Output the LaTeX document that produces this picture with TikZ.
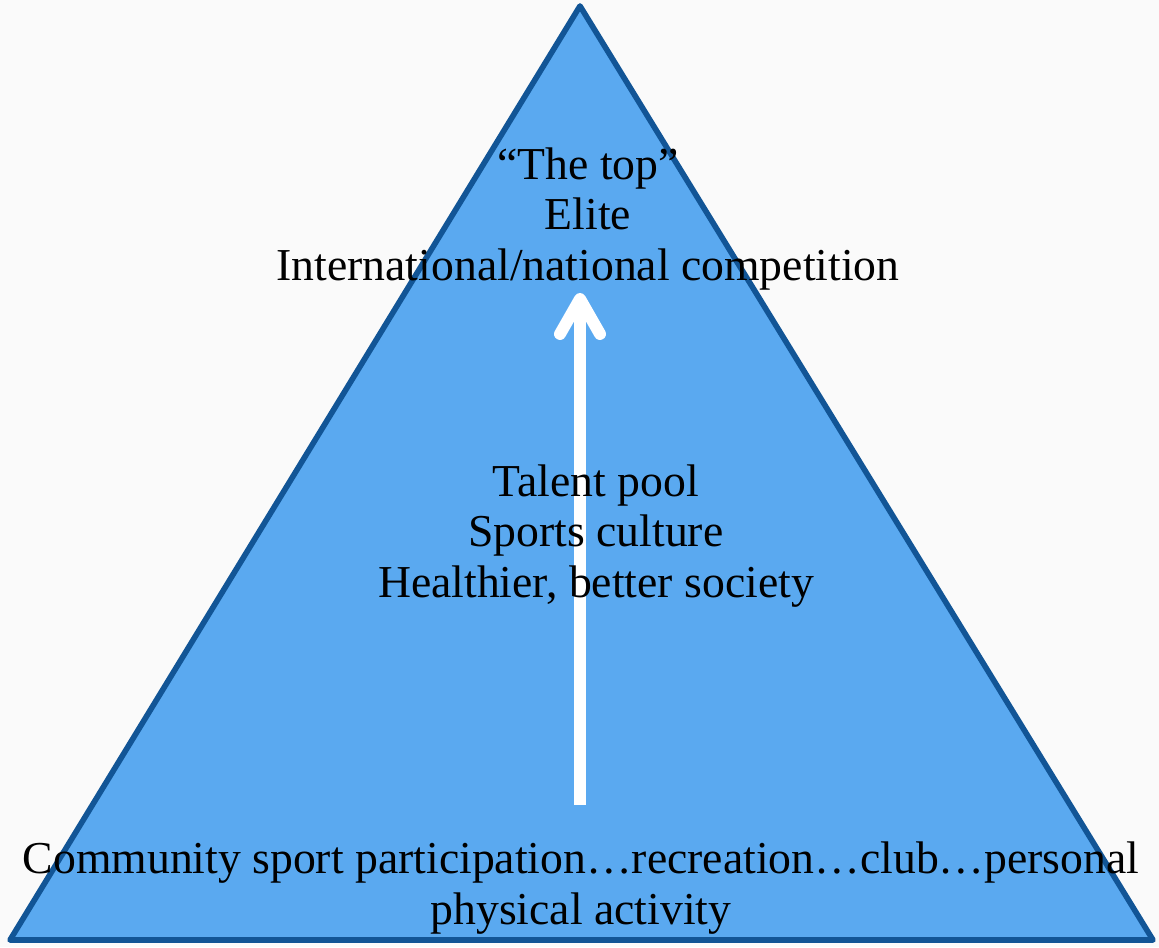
\documentclass[tikz,border=0pt]{standalone}
\usepackage{fontspec}
\setmainfont{Liberation Serif}
\usetikzlibrary{arrows.meta, positioning}
\definecolor{pyrfill}{RGB}{90,169,240}
\definecolor{pyredge}{RGB}{18,85,150}
\definecolor{bgpaper}{RGB}{250,250,250}

\begin{document}
\begin{tikzpicture}[x=0.02cm, y=-0.02cm, line width=1pt, >=latex,
	tier/.style={align=center, inner sep=0pt, font=\fontsize{26}{28.7}\selectfont}]
	\fill[bgpaper] (0,0) rectangle (1159,947);
	\useasboundingbox (0,0) rectangle (1159,947);
	
	\coordinate (apex) at (580,6);
	\coordinate (bl) at (10,940);
	\coordinate (br) at (1153,940);
	\draw[pyredge, fill=pyrfill, line width=3.2pt, line join=round] (apex) -- (bl) -- (br) -- cycle;
	
	\coordinate (foot) at (580,805);
	\coordinate (tip) at (580,293);
	\draw[white, line width=6.8pt, -{Straight Barb[length=0.7cm, width=0.8cm, round]}] (foot) -- (tip);
	
	\node[tier] (top) at (588,219) {“The top”\\Elite\\International/national competition};
	\node[tier] (mid) at (596,536) {Talent pool\\Sports culture\\Healthier, better society};
	\node[tier] (base) at (581,888) {Community sport participation…recreation…club…personal\\physical activity};
	
\end{tikzpicture}
\end{document}
